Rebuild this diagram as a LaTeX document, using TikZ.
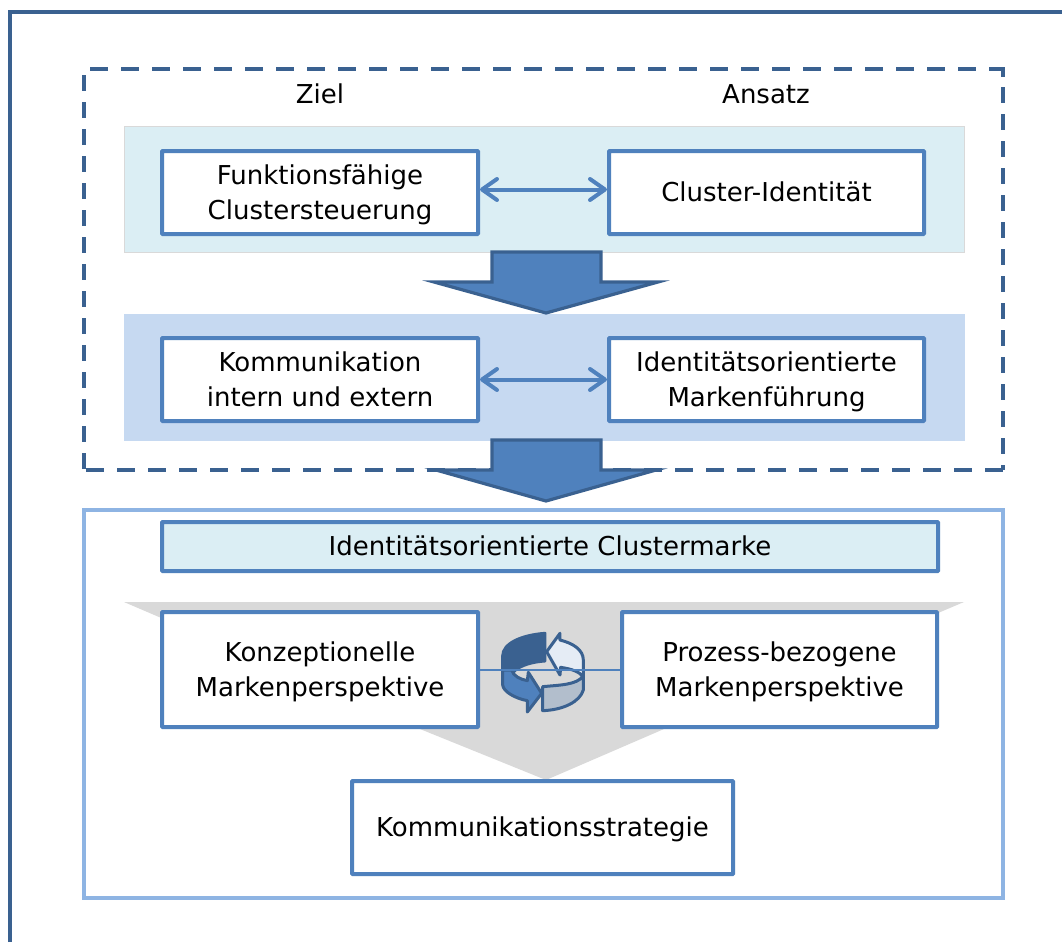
\documentclass[tikz,border=0pt]{standalone}
\usepackage{fontspec}
\setmainfont{DejaVu Sans}
\usetikzlibrary{arrows.meta}
\definecolor{dkblue}{HTML}{3A6190}
\definecolor{midblue}{HTML}{4F81BD}
\definecolor{ltblue}{HTML}{8EB4E3}
\definecolor{panelA}{HTML}{DBEEF4}
\definecolor{panelB}{HTML}{C6D9F1}
\definecolor{grayfill}{HTML}{D9D9D9}
\tikzset{
  x=1pt,y=-1pt,
  box/.style={draw=midblue,line width=4pt,fill=white,align=center,text=black,font=\fontsize{26}{35}\selectfont,inner sep=0pt,outer sep=0pt,anchor=north west,rounded corners=0.6pt},
  panel/.style={draw=black!15,line width=0.8pt,outer sep=0pt,inner sep=0pt,anchor=north west},
  bigarrow/.style={draw=dkblue,line width=3.2pt,fill=midblue,line join=miter},
  dbl/.style={draw=midblue,line width=4pt,shorten <=2pt,shorten >=2pt,{Straight Barb[length=15pt,width=21pt,line width=4pt,round]}-{Straight Barb[length=15pt,width=21pt,line width=4pt,round]}},
  head/.style={font=\fontsize{26}{30}\selectfont,text=black},
  cyc/.style={draw=dkblue,line width=3pt,line join=round},
  dashh/.style={draw=dkblue,line width=4pt,dash pattern=on 18pt off 13pt},
  dashv/.style={draw=dkblue,line width=4pt,dash pattern=on 16pt off 11pt},
}
\newcommand{\txt}[1]{\raisebox{-2pt}[\height][\depth]{\begin{tabular}{@{}c@{}}#1\end{tabular}}}
\newcommand{\bx}[6]{\node[box,minimum width=#4pt,minimum height=#5pt] (#1) at (#2,#3) {\txt{#6}};}
\begin{document}
\begin{tikzpicture}
\useasboundingbox (0,0) rectangle (1062,942);
% outer frame
\coordinate (fa) at (10,942);
\coordinate (fb) at (10,12.5);
\coordinate (fc) at (1062,12.5);
\draw[draw=dkblue,line width=4pt] (fa) -- (fb) -- (fc);
% dashed group
\draw[dashh] (90,69) -- (1003,69);
\draw[draw=dkblue,line width=4pt] (1003,67) -- (1003,77);
\draw[dashv] (1003,87) -- (1003,470);
\draw[dashh] (86,470) -- (1005,470);
\draw[dashv] (83.5,75) -- (83.5,472);
% panels
\node[panel,fill=panelA,minimum width=840pt,minimum height=126pt] (p1) at (124,126) {};
\node[panel,fill=panelB,draw=panelB,minimum width=840pt,minimum height=126pt] (p2) at (124,314) {};
% headings
\node[head] (ziel) at (320,94) {Ziel};
\node[head] (ansatz) at (766,94) {Ansatz};
% top boxes
\bx{a}{162}{151}{316}{83}{Funktionsfähige\\Clustersteuerung}
\bx{b}{609}{151}{315}{83}{Cluster-Identität}
\bx{c}{162}{338}{316}{83}{Kommunikation\\intern und extern}
\bx{d}{609}{338}{315}{83}{Identitätsorientierte\\Markenführung}
\draw[dbl] ([yshift=3pt]a.east) -- ([yshift=3pt]b.west);
\draw[dbl] (c.east) -- (d.west);
% lower group
\node[draw=ltblue,line width=4pt,fill=white,minimum width=919pt,minimum height=388pt,anchor=north west,inner sep=0pt,outer sep=0pt] (g) at (83.5,509.5) {};
% big arrows
\draw[bigarrow] (492,252) -- (601,252) -- (601,282) -- (658,282) -- (546,313) -- (434,282) -- (492,282) -- cycle;
\draw[bigarrow] (492,440) -- (601,440) -- (601,470) -- (656,470) -- (546,501) -- (436,470) -- (492,470) -- cycle;
\node[box,fill=panelA,minimum width=776pt,minimum height=49pt] (e) at (162,522) {\txt{Identitätsorientierte Clustermarke}};
% gray funnel
\fill[grayfill] (124,602) -- (964,602) -- (664,729) -- (546,780) -- (420,729) -- cycle;
\bx{f}{162}{612}{316}{115}{Konzeptionelle\\Markenperspektive}
\bx{h}{622}{612}{315}{115}{Prozess-bezogene\\Markenperspektive}
\bx{k}{352}{781}{381}{93}{Kommunikationsstrategie}
% cycle icon
\begin{scope}[shift={(440,590)},x=0.3333pt,y=-0.3333pt]
\draw[cyc,fill=white!85!midblue] (320,185) -- (360,130) -- (360,150) .. controls (400,160) and (430,180) .. (430,210) -- (430,262) .. controls (420,245) and (395,237) .. (362,232) -- (360,255) -- cycle;
\draw[cyc,fill=dkblue] (315,130) .. controls (245,135) and (188,160) .. (188,198) -- (188,240) -- (220,246) .. controls (240,225) and (280,215) .. (315,213) -- cycle;
\draw[cyc,fill=midblue] (188,240) -- (188,285) .. controls (190,305) and (225,325) .. (262,332) -- (262,366) -- (305,310) -- (265,247) -- (262,272) .. controls (240,268) and (220,258) .. (215,240) -- cycle;
\draw[cyc,fill=black!10!white!70!dkblue] (308,290) .. controls (360,285) and (410,285) .. (430,258) -- (430,300) .. controls (420,335) and (370,360) .. (308,362) -- cycle;
\end{scope}
\draw[draw=midblue,line width=2pt] (f.east) -- (h.west);
\end{tikzpicture}
\end{document}
